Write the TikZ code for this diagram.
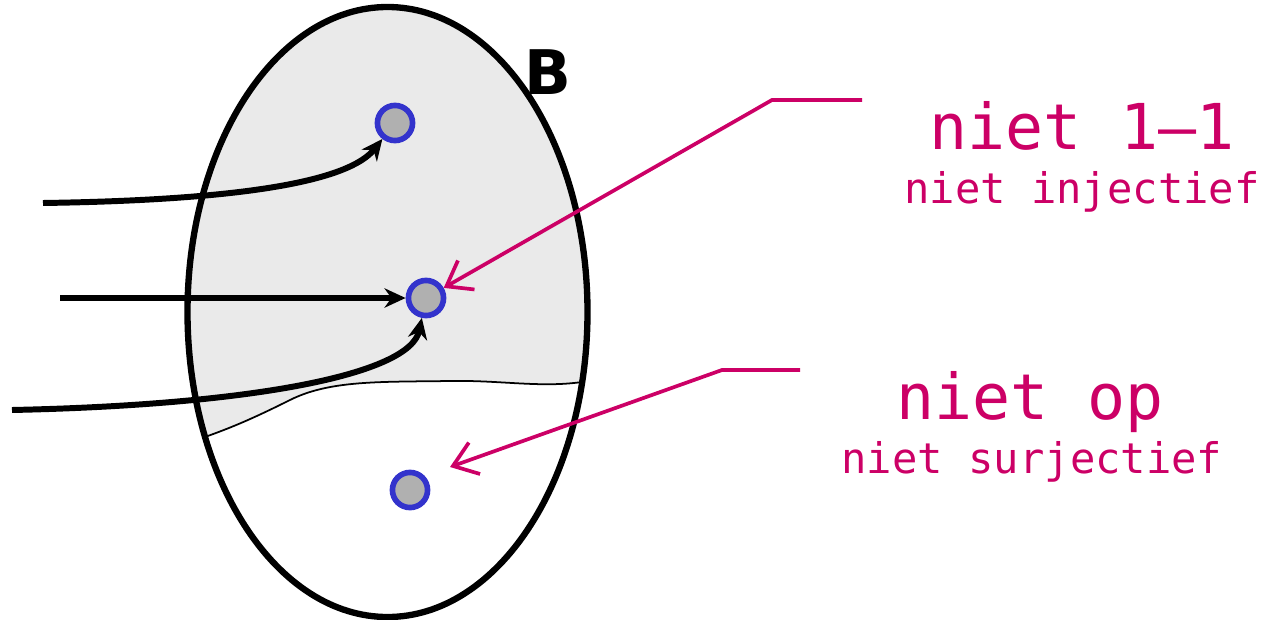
\documentclass[tikz,border=0pt]{standalone}
\usepackage{fontspec}
\setmonofont{DejaVu Sans Mono}
\setsansfont{DejaVu Sans}
\usetikzlibrary{arrows.meta}
\definecolor{magen}{HTML}{CC0066}
\definecolor{dotblue}{HTML}{3333CC}
\definecolor{dotgray}{HTML}{B0B0B0}
\definecolor{bgray}{HTML}{EAEAEA}

\begin{document}
\begin{tikzpicture}[x=0.02cm, y=-0.02cm,
  elem/.style={circle, draw=dotblue, fill=dotgray, line width=3.2pt, minimum size=20pt, inner sep=0pt},
  maparrow/.style={line width=3.4pt, -{Stealth[length=12pt, width=11pt]}},
  remark/.style={magen, line width=2.1pt, -{Straight Barb[length=13pt, width=19pt, line width=2.1pt]}},
  bigtext/.style={magen, font=\fontsize{36}{40}\selectfont\ttfamily, anchor=base},
  smalltext/.style={magen, font=\fontsize{24}{28}\selectfont\ttfamily, anchor=base}]
  \useasboundingbox (0,0) rectangle (1265,619);

  % gebied B met beeld
  \begin{scope}
    \clip (387.5,312) ellipse [x radius=200, y radius=305];
    \fill[bgray] (150,0) -- (650,0) -- (650,382) -- (582,382)
      .. controls (540,388) and (500,380) .. (450,381)
      .. controls (380,382) and (330,380) .. (290,400)
      .. controls (250,420) and (230,428) .. (205,437)
      -- (150,460) -- cycle;
  \end{scope}
  \draw[line width=1pt] (582,382) .. controls (540,388) and (500,380) .. (450,381)
      .. controls (380,382) and (330,380) .. (290,400)
      .. controls (250,420) and (230,428) .. (205,437);
  \draw[line width=3.6pt] (387.5,312) ellipse [x radius=200, y radius=305];
  \node[font=\fontsize{35}{40}\selectfont\sffamily\bfseries] (B) at (548,72) {B};

  % elementen
  \node[elem] (b1) at (395,123) {};
  \node[elem] (b2) at (426,298) {};
  \node[elem] (b3) at (410,490) {};

  % pijlen van A
  \coordinate (s1) at (43,203);
  \coordinate (s2) at (60,298);
  \coordinate (s3) at (12,410);
  \draw[maparrow] (s1) .. controls (250,200) and (350,180) .. (b1);
  \draw[maparrow] (s2) -- (b2);
  \draw[maparrow] (s3) .. controls (250,405) and (410,375) .. (b2);

  % opmerkingen
  \node[bigtext] (inj) at (1082,149) {niet 1–1};
  \node[smalltext] (injs) at (1082,203) {niet injectief};
  \node[bigtext] (sur) at (1030,419) {niet op};
  \node[smalltext] (surs) at (1032,473) {niet surjectief};

  \coordinate (p1) at (862,100);
  \coordinate (k1) at (772,100);
  \coordinate (p2) at (800,370);
  \coordinate (k2) at (722,370);
  \coordinate (t2) at (450,467);
  \draw[remark] (p1) -- (k1) -- (b2);
  \draw[remark] (p2) -- (k2) -- (t2);
\end{tikzpicture}
\end{document}
